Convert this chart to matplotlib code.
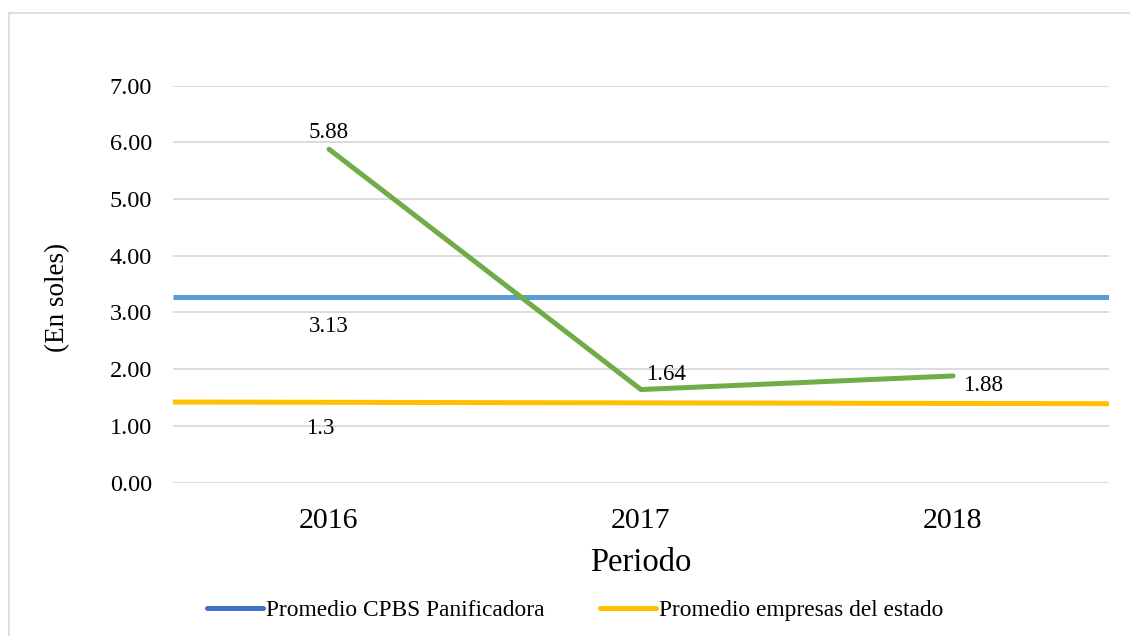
import matplotlib.pyplot as plt
import numpy as np
from matplotlib.lines import Line2D
from matplotlib.patches import Rectangle

# Datos
periodos = ["2016", "2017", "2018"]
valores_cpbs = [5.88, 1.64, 1.88]
linea_promedio_cpbs = [3.27, 3.27]
linea_promedio_estado = [1.42, 1.39]
etiqueta_promedio_cpbs = "3.13"
etiqueta_promedio_estado = "1.3"

plt.rcParams["font.family"] = ["Liberation Serif", "DejaVu Serif"]

fig = plt.figure(figsize=(11.3, 6.36), dpi=100)
ax = fig.add_axes([0.1531, 0.2413, 0.8283, 0.6240])

# marco gris del grafico
fig.patches.append(Rectangle((9 / 1130, -0.1), 1.2, 1 - 13 / 636 + 0.1,
                             transform=fig.transFigure, fill=False,
                             edgecolor="#D9D9D9", linewidth=1.2))

x = np.arange(len(periodos))
extremos = [x[0] - 0.5, x[-1] + 0.5]

ax.plot(extremos, linea_promedio_cpbs, color="#5B9BD5", linewidth=3.6,
        solid_capstyle="butt", zorder=3)
ax.plot(extremos, linea_promedio_estado, color="#FFC000", linewidth=3.6,
        solid_capstyle="butt", zorder=3)
ax.plot(x, valores_cpbs, color="#70AD47", linewidth=3.6,
        solid_capstyle="round", solid_joinstyle="round", zorder=4)

# etiquetas de datos
fs = 16.5
ax.annotate(f"{valores_cpbs[0]:.2f}", (x[0], valores_cpbs[0]), xytext=(0, 12),
            textcoords="offset points", ha="center", va="center", fontsize=fs)
ax.annotate(f"{valores_cpbs[1]:.2f}", (x[1], valores_cpbs[1]), xytext=(18, 11),
            textcoords="offset points", ha="center", va="center", fontsize=fs)
ax.annotate(f"{valores_cpbs[2]:.2f}", (x[2], valores_cpbs[2]), xytext=(22, -7),
            textcoords="offset points", ha="center", va="center", fontsize=fs)
ax.annotate(etiqueta_promedio_cpbs, (x[0], linea_promedio_cpbs[0]), xytext=(0, -21),
            textcoords="offset points", ha="center", va="center", fontsize=fs)
ax.annotate(etiqueta_promedio_estado, (x[0], linea_promedio_estado[0]), xytext=(-6, -19),
            textcoords="offset points", ha="center", va="center", fontsize=fs)

ax.set_xlim(extremos)
ax.set_ylim(0, 7)
ax.set_yticks(np.arange(0, 8, 1))
ax.set_yticklabels([f"{v:.2f}" for v in np.arange(0, 8, 1)])
ax.set_xticks(x)
ax.set_xticklabels(periodos)
ax.tick_params(axis="y", length=0, labelsize=17.5, pad=15)
ax.tick_params(axis="x", length=0, labelsize=21.5, pad=18)
ax.grid(axis="y", color="#D9D9D9", linewidth=1.3)
ax.set_axisbelow(True)
for s in ax.spines.values():
    s.set_visible(False)

ax.set_ylabel("(En soles)", fontsize=19.5)
ax.yaxis.set_label_coords(-0.110, 0.467)
ax.set_xlabel("Periodo", fontsize=23.5, labelpad=10)

handles = [Line2D([0], [0], color="#4472C4", linewidth=3.6, solid_capstyle="round"),
           Line2D([0], [0], color="#FFC000", linewidth=3.6, solid_capstyle="round")]
fig.legend(handles, ["Promedio CPBS Panificadora", "Promedio empresas del estado"],
           loc="center", bbox_to_anchor=(0.509, 0.040), ncol=2, frameon=False,
           fontsize=16.8, handlelength=2.4, handletextpad=0.1, columnspacing=2.4)

fig.savefig("out.png", dpi=100)
